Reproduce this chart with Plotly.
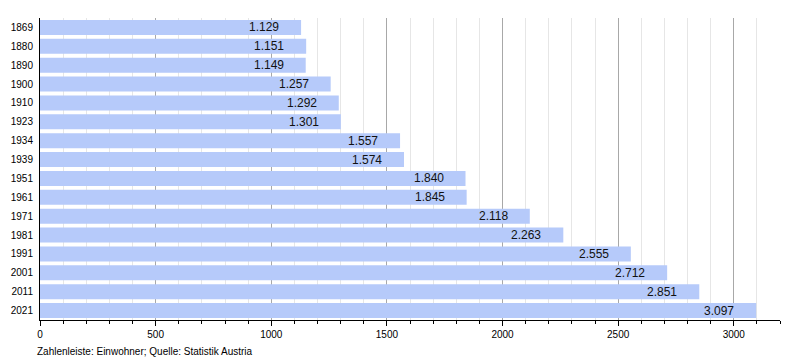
import plotly.graph_objects as go

years = ["1869", "1880", "1890", "1900", "1910", "1923", "1934", "1939",
         "1951", "1961", "1971", "1981", "1991", "2001", "2011", "2021"]
population = [1129, 1151, 1149, 1257, 1292, 1301, 1557, 1574,
              1840, 1845, 2118, 2263, 2555, 2712, 2851, 3097]
labels = ["1.129", "1.151", "1.149", "1.257", "1.292", "1.301", "1.557", "1.574",
          "1.840", "1.845", "2.118", "2.263", "2.555", "2.712", "2.851", "3.097"]
x_ticks = [0, 500, 1000, 1500, 2000, 2500, 3000]

FONT = "Liberation Sans, Arial, sans-serif"

fig = go.Figure(go.Bar(
    x=population, y=years, orientation="h",
    marker=dict(color="#b6cafa", line=dict(width=0)),
    hoverinfo="skip",
))

annotations = [
    dict(x=v, y=i, xref="x", yref="y", text=t, showarrow=False,
         xanchor="right", yanchor="middle", xshift=-20,
         font=dict(family=FONT, size=12, color="#111111"))
    for i, (v, t) in enumerate(zip(population, labels))
]
annotations.append(dict(
    text="Zahlenleiste: Einwohner; Quelle: Statistik Austria",
    xref="paper", yref="paper", x=-0.007, y=-0.08, xanchor="left", yanchor="top",
    showarrow=False, font=dict(family=FONT, size=10, color="#000"),
))

fig.update_layout(
    width=800, height=360,
    margin=dict(l=40, r=20, t=18, b=40, autoexpand=False),
    paper_bgcolor="white", plot_bgcolor="white",
    bargap=0.2, showlegend=False,
    font=dict(family=FONT, size=10, color="#000"),
    xaxis=dict(
        range=[0, 3200], tickvals=x_ticks, ticktext=[str(v) for v in x_ticks],
        showgrid=True, gridcolor="#a8a8a8", gridwidth=1,
        showline=True, linecolor="#000", linewidth=1,
        ticks="outside", ticklen=5, tickcolor="#000",
        minor=dict(dtick=100, tick0=0, showgrid=True, gridcolor="#e6e6e6",
                   ticks="outside", ticklen=3, tickcolor="#000"),
        zeroline=False, tickfont=dict(size=10), automargin=False,
    ),
    yaxis=dict(
        type="category",
        categoryorder="array", categoryarray=years,
        range=[len(years) - 0.5, -0.5], autorange=False,
        showline=True, linecolor="#000", linewidth=1,
        ticks="outside", ticklen=4, tickcolor="rgba(0,0,0,0)",
        showgrid=False, tickfont=dict(size=10), automargin=False,
    ),
    annotations=annotations,
)

fig.write_html("out.html", config={"displayModeBar": False},
               post_script="document.body.style.margin='0';")
